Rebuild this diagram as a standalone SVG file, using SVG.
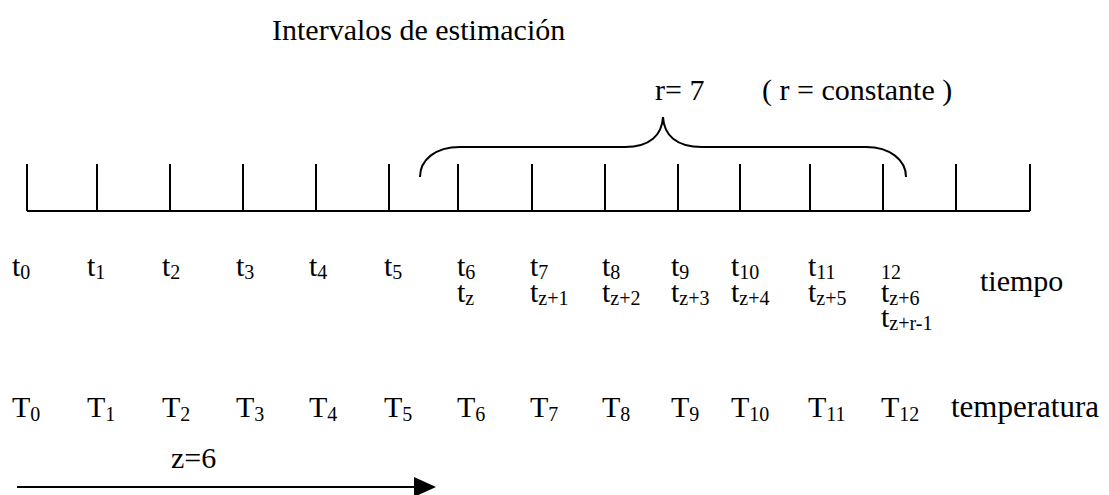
<svg xmlns="http://www.w3.org/2000/svg" width="1109" height="495" viewBox="0 0 1109 495">
<style>
text{font-family:"Liberation Serif","Times New Roman",serif;fill:#000}
.m{font-size:30px}
.s{font-size:20px}
.ln{stroke:#000;stroke-width:2;fill:none}
</style>
<defs>
<marker id="ah" markerWidth="22" markerHeight="20" refX="20" refY="10" orient="auto" markerUnits="userSpaceOnUse" viewBox="0 0 22 20">
<path d="M0,0 L22,10 L0,20 Z" fill="#000"/>
</marker>
</defs>
<rect width="1109" height="495" fill="#fff"/>
<g id="title"><text class="m" x="272" y="40">Intervalos de estimación</text></g>
<g id="rlabel"><text class="m" x="655" y="100">r= 7</text><text class="m" x="762" y="100">( r = constante )</text></g>
<g id="brace"><path class="ln" d="M420,177 C420,160 435,147 460,147 L625,147 C650,147 662,135 663,117 C664,135 676,147 702,147 L866,147 C890,147 906,160 906,177"/></g>
<g id="axis">
<path class="ln" d="M27,211 H1030 M27,164 V211 M97,164 V211 M170,164 V211 M243,164 V211 M316,164 V211 M389,164 V211 M458,164 V211 M532,164 V211 M605,164 V211 M678,164 V211 M740,164 V211 M810,164 V211 M883,164 V211 M956,164 V211 M1030,164 V211"/>
</g>
<g id="tlabels" class="m">
<text x="12" y="276">t<tspan class="s" dy="3">0</tspan></text>
<text x="87" y="276">t<tspan class="s" dy="3">1</tspan></text>
<text x="162" y="276">t<tspan class="s" dy="3">2</tspan></text>
<text x="236" y="276">t<tspan class="s" dy="3">3</tspan></text>
<text x="309" y="276">t<tspan class="s" dy="3">4</tspan></text>
<text x="384" y="276">t<tspan class="s" dy="3">5</tspan></text>
<text x="457" y="276">t<tspan class="s" dy="3">6</tspan></text>
<text x="530" y="276">t<tspan class="s" dy="3">7</tspan></text>
<text x="602" y="276">t<tspan class="s" dy="3">8</tspan></text>
<text x="671" y="276">t<tspan class="s" dy="3">9</tspan></text>
<text x="731" y="276">t<tspan class="s" dy="3">10</tspan></text>
<text x="808" y="276">t<tspan class="s" dy="3">11</tspan></text>
<text class="s" x="881" y="279">12</text>
<text x="980" y="291">tiempo</text>
</g>
<g id="tzlabels" class="m">
<text x="457" y="302">t<tspan class="s" dy="3">z</tspan></text>
<text x="530" y="302">t<tspan class="s" dy="3">z+1</tspan></text>
<text x="602" y="302">t<tspan class="s" dy="3">z+2</tspan></text>
<text x="671" y="302">t<tspan class="s" dy="3">z+3</tspan></text>
<text x="731" y="302">t<tspan class="s" dy="3">z+4</tspan></text>
<text x="808" y="302">t<tspan class="s" dy="3">z+5</tspan></text>
<text x="881" y="302">t<tspan class="s" dy="3">z+6</tspan></text>
<text x="881" y="327">t<tspan class="s" dy="3">z+r-1</tspan></text>
</g>
<g id="Tlabels" class="m">
<text x="12" y="417">T<tspan class="s" dy="4">0</tspan></text>
<text x="87" y="417">T<tspan class="s" dy="4">1</tspan></text>
<text x="162" y="417">T<tspan class="s" dy="4">2</tspan></text>
<text x="236" y="417">T<tspan class="s" dy="4">3</tspan></text>
<text x="309" y="417">T<tspan class="s" dy="4">4</tspan></text>
<text x="384" y="417">T<tspan class="s" dy="4">5</tspan></text>
<text x="457" y="417">T<tspan class="s" dy="4">6</tspan></text>
<text x="530" y="417">T<tspan class="s" dy="4">7</tspan></text>
<text x="602" y="417">T<tspan class="s" dy="4">8</tspan></text>
<text x="671" y="417">T<tspan class="s" dy="4">9</tspan></text>
<text x="731" y="417">T<tspan class="s" dy="4">10</tspan></text>
<text x="808" y="417">T<tspan class="s" dy="4">11</tspan></text>
<text x="881" y="417">T<tspan class="s" dy="4">12</tspan></text>
<text x="951" y="417" style="font-size:31px">temperatura</text>
</g>
<g id="z"><text class="m" x="171" y="468">z=6</text></g>
<g id="connectors"><path class="ln" d="M17,487 H434" marker-end="url(#ah)"/></g>
</svg>
